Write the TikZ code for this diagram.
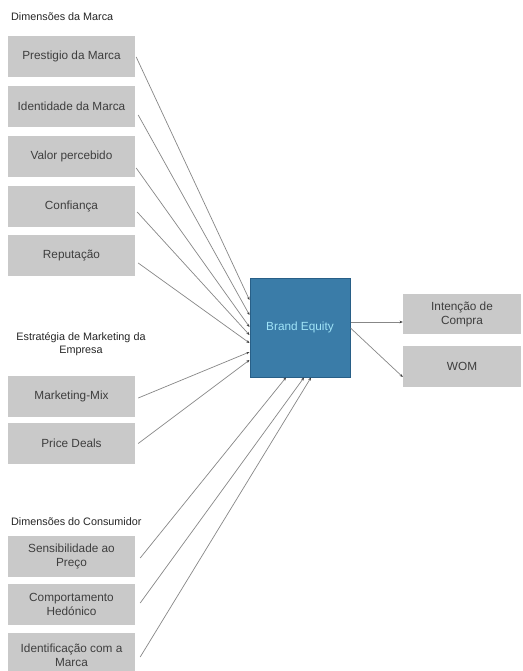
\documentclass[tikz,border=0pt]{standalone}
\usepackage{fontspec}
\setmainfont{Liberation Sans}
\usetikzlibrary{arrows.meta}
\definecolor{boxgray}{RGB}{201,201,201}
\definecolor{boxtext}{RGB}{62,62,62}
\definecolor{linegray}{RGB}{135,135,135}
\definecolor{tipdark}{RGB}{60,60,60}
\definecolor{befill}{RGB}{58,124,168}
\definecolor{bedraw}{RGB}{40,95,135}
\definecolor{betext}{RGB}{160,228,248}
\begin{document}
\begin{tikzpicture}[x=1pt,y=-1pt,
  gbox/.style={fill=boxgray, draw=none, text=boxtext, font=\fontsize{11.8}{14}\selectfont,
    align=center, inner sep=0pt, minimum width=127pt, minimum height=41pt},
  rbox/.style={gbox, minimum width=118pt},
  ttl/.style={text=black!85, font=\fontsize{10.8}{12.5}\selectfont, inner sep=0pt},
  conn/.style={draw=linegray, line width=0.7pt, -{Stealth[length=3.2pt,width=2.6pt,color=tipdark]}}]
\useasboundingbox (0,0) rectangle (522,671);
\fill[white] (0,0) rectangle (522,671);

% titles
\node[ttl, anchor=west] (t1) at (11,17) {Dimensões da Marca};
\node[ttl, align=center] (t2) at (81,344) {Estratégia de Marketing da\\Empresa};
\node[ttl, anchor=west] (t3) at (11,522) {Dimensões do Consumidor};

% brand dimension boxes
\node[gbox] (p1) at (71.5,56.5) {Prestigio da Marca};
\node[gbox] (p2) at (71.5,106.5) {Identidade da Marca};
\node[gbox] (p3) at (71.5,156.5) {Valor percebido};
\node[gbox] (p4) at (71.5,206.5) {Confiança};
\node[gbox] (p5) at (71.5,255.5) {Reputação};

% marketing strategy
\node[gbox] (m1) at (71.5,396.5) {Marketing-Mix};
\node[gbox] (m2) at (71.5,443.5) {Price Deals};

% consumer
\node[gbox] (c1) at (71.5,556) {Sensibilidade ao\\Preço};
\node[gbox] (c2) at (71.5,604.5) {Comportamento\\Hedónico};
\node[gbox, minimum height=44pt] (c3) at (71.5,655) {Identificação com a\\Marca};

% brand equity
\node[fill=befill, draw=bedraw, line width=1pt, minimum width=100pt, minimum height=99pt,
  inner sep=0pt, text=betext, font=\fontsize{11.8}{14}\selectfont] (be) at (300,327.5) {Brand Equity};

% outcomes
\node[rbox, minimum height=40pt] (i1) at (462,314) {Intenção de\\Compra};
\node[rbox] (w1) at (462,366.5) {WOM};

% connectors
\draw[conn] ([xshift=1pt,yshift=-0.5pt]p1.east) -- ([yshift=27.5pt]be.west);
\draw[conn] ([xshift=3pt,yshift=-8.5pt]p2.east) -- ([yshift=12.5pt]be.west);
\draw[conn] ([xshift=1pt,yshift=-11.5pt]p3.east) -- ([yshift=0.5pt]be.west);
\draw[conn] ([xshift=2pt,yshift=-5.5pt]p4.east) -- ([yshift=-7.5pt]be.west);
\draw[conn] ([xshift=3pt,yshift=-7.5pt]p5.east) -- ([yshift=-15.5pt]be.west);
\draw[conn] ([xshift=3pt,yshift=-1.5pt]m1.east) -- ([yshift=-24.5pt]be.west);
\draw[conn] ([xshift=3pt]m2.east) -- ([yshift=-32.5pt]be.west);
\draw[conn] ([xshift=5pt,yshift=-2pt]c1.east) -- ([xshift=-14pt]be.south);
\draw[conn] ([xshift=5pt,yshift=1.5pt]c2.east) -- ([xshift=4pt]be.south);
\draw[conn] ([xshift=5pt,yshift=-2pt]c3.east) -- ([xshift=11pt]be.south);
\draw[conn] ([yshift=5.5pt]be.east) -- ([yshift=-8pt]i1.west);
\draw[conn] ([yshift=-0.5pt]be.east) -- ([yshift=-10.5pt]w1.west);
\end{tikzpicture}
\end{document}
